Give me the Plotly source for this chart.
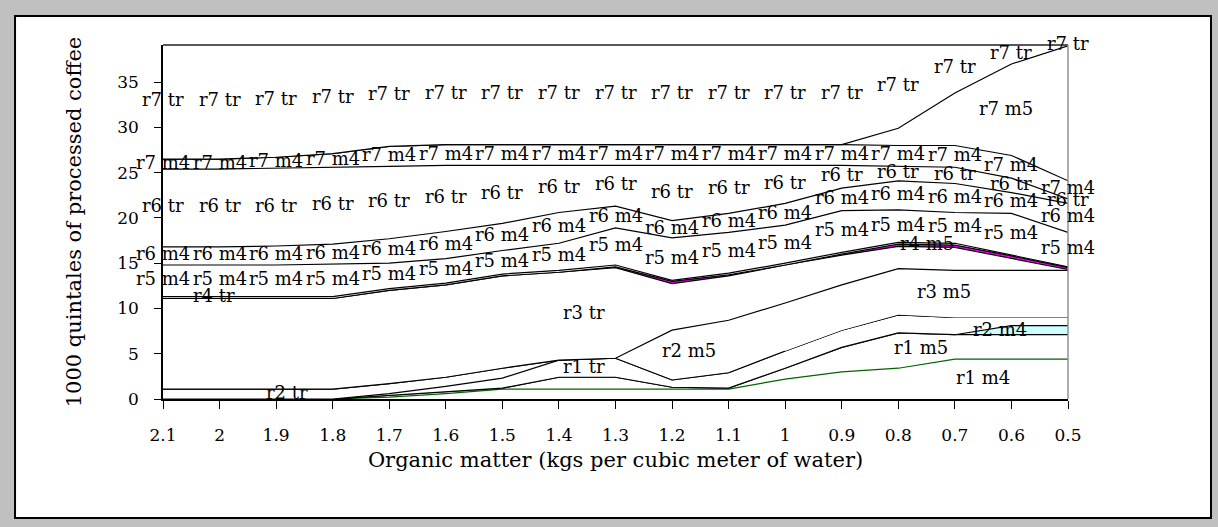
import numpy as np
import plotly.graph_objects as go

# categories (organic matter, kgs per cubic meter of water) - axis runs 2.1 -> 0.5
organic = [2.1, 2.0, 1.9, 1.8, 1.7, 1.6, 1.5, 1.4, 1.3, 1.2, 1.1, 1.0, 0.9, 0.8, 0.7, 0.6, 0.5]
tick_text = ["2.1", "2", "1.9", "1.8", "1.7", "1.6", "1.5", "1.4", "1.3", "1.2", "1.1",
             "1", "0.9", "0.8", "0.7", "0.6", "0.5"]

# stacked series, bottom to top (1000 quintales of processed coffee)
r1_m4 = [0, 0, 0, 0, 0.2, 0.6, 1.1, 1.1, 1.1, 1.1, 1.1, 2.2, 3.0, 3.4, 4.4, 4.4, 4.4]
r1_m5 = [0, 0, 0, 0, 0.2, 0.2, 0.1, 1.3, 1.3, 0.2, 0.1, 1.2, 2.7, 3.9, 2.7, 2.7, 2.7]
r2_m4 = [0, 0, 0, 0, 0, 0, 0, 0, 0, 0, 0, 0, 0, 0, 0, 1.0, 1.0]
r1_tr = [0, 0, 0, 0, 0.2, 0.6, 1.1, 1.9, 2.1, 0.8, 1.7, 1.9, 1.9, 2.0, 1.9, 0.9, 0.9]
r2_tr = [1.1, 1.1, 1.1, 1.1, 1.1, 1.0, 1.1, 0, 0, 0, 0, 0, 0, 0, 0, 0, 0]
r2_m5 = [0, 0, 0, 0, 0, 0, 0, 0, 0, 5.5, 5.8, 0, 0, 0, 0, 0, 0]
r3_m5 = [0, 0, 0, 0, 0, 0, 0, 0, 0, 0, 0, 5.3, 5.0, 5.1, 5.2, 5.2, 5.2]
r3_tr = [10.0, 10.0, 10.0, 10.0, 10.3, 10.2, 10.2, 9.7, 10.0, 5.15, 4.9, 4.2, 3.3, 2.45, 2.55, 1.35, 0.1]
r4_m5 = [0, 0, 0, 0, 0, 0, 0, 0, 0.1, 0.25, 0.1, 0, 0.1, 0.25, 0.25, 0.25, 0.2]
r4_tr = [0.2, 0.2, 0.2, 0.2, 0.2, 0.2, 0.2, 0.2, 0.2, 0.1, 0.2, 0.2, 0.2, 0.2, 0.2, 0.1, 0.1]
r5_m4 = [3.5, 3.5, 3.5, 3.6, 2.8, 2.7, 2.6, 3.0, 4.1, 4.7, 4.5, 4.2, 4.6, 3.6, 3.4, 4.6, 3.8]
r6_m4 = [2.0, 2.0, 2.1, 2.2, 2.7, 3.0, 3.0, 3.4, 2.4, 1.9, 2.1, 2.4, 2.5, 3.2, 3.2, 2.3, 3.2]
r6_tr = [8.6, 8.6, 8.6, 8.5, 8.0, 7.3, 6.4, 5.2, 4.5, 6.1, 5.3, 4.2, 2.5, 1.6, 1.8, 1.6, 0.5]
r7_m4 = [1.1, 1.1, 1.2, 1.5, 2.2, 2.3, 2.3, 2.3, 2.3, 2.3, 2.3, 2.3, 2.3, 2.3, 2.4, 2.5, 2.0]
r7_m5 = [0, 0, 0, 0, 0, 0, 0, 0, 0, 0, 0, 0, 0, 1.9, 5.8, 10.1, 14.9]
r7_tr = [12.7, 12.7, 12.5, 12.1, 11.3, 11.1, 11.1, 11.1, 11.1, 11.1, 11.1, 11.1, 11.1, 9.3, 5.4, 2.2, 0.2]

series = [
    ("r1 m4", r1_m4), ("r1 m5", r1_m5), ("r2 m4", r2_m4), ("r1 tr", r1_tr),
    ("r2 tr", r2_tr), ("r2 m5", r2_m5), ("r3 m5", r3_m5), ("r3 tr", r3_tr),
    ("r4 m5", r4_m5), ("r4 tr", r4_tr),
    ("r5 m4", r5_m4), ("r6 m4", r6_m4), ("r6 tr", r6_tr),
    ("r7 m4", r7_m4), ("r7 m5", r7_m5), ("r7 tr", r7_tr),
]

# where the data labels sit (organic matter value of each label)
label_at = {
    "r1 m4": [0.65], "r1 m5": [0.76], "r1 tr": [1.355],
    "r2 m4": [0.62], "r2 m5": [1.17], "r2 tr": [1.88],
    "r3 m5": [0.72], "r3 tr": [1.355],
    "r4 m5": [0.75], "r4 tr": [2.01],
    "r5 m4": organic, "r6 m4": organic, "r6 tr": organic,
    "r7 m4": organic, "r7 m5": [0.61], "r7 tr": organic,
}

fill_colors = {"r2 m4": "#ccffff", "r4 m5": "#ff00ff"}
line_colors = {"r1 m4": "#006400"}
line_widths = {"r2 m5": 0}   # its border merges into the r3 m5 band in the original

SERIF = "DejaVu Serif"

fig = go.Figure()
for name, vals in series:
    fig.add_trace(go.Scatter(
        x=organic, y=vals, name=name, mode="lines", stackgroup="one",
        line=dict(color=line_colors.get(name, "black"), width=line_widths.get(name, 1.2)),
        fillcolor=fill_colors.get(name, "white"),
        hoverinfo="x+y+name",
    ))

# data labels: centred in each band
xs_up = np.array(organic[::-1])
bottom = np.zeros(len(organic))
annotations = []
for name, vals in series:
    v = np.array(vals, dtype=float)
    mid = bottom + v / 2
    for xl in label_at[name]:
        yl = float(np.interp(xl, xs_up, mid[::-1]))
        annotations.append(dict(x=xl, y=yl, text=name, showarrow=False, yshift=2,
                                font=dict(family=SERIF, size=18, color="black")))
    bottom = bottom + v

fig.update_layout(
    width=1218, height=527,
    paper_bgcolor="#c0c0c0", plot_bgcolor="white",
    margin=dict(l=163, r=150, t=45, b=128),
    showlegend=False,
    font=dict(family=SERIF, size=17, color="black"),
    annotations=annotations,
    shapes=[
        # chart area frame
        dict(type="rect", xref="paper", yref="paper", x0=-0.1635, x1=1.158, y0=-0.336, y1=1.082,
             line=dict(color="black", width=2), fillcolor="white", layer="below"),
        # plot area top and right edges
        dict(type="line", xref="paper", yref="paper", x0=0, x1=1, y0=1, y1=1,
             line=dict(color="#202020", width=1.5)),
        dict(type="line", xref="paper", yref="paper", x0=1, x1=1, y0=0, y1=1,
             line=dict(color="#909090", width=1.5)),
    ],
)
fig.update_xaxes(
    range=[2.1, 0.5], tickvals=organic, ticktext=tick_text,
    showgrid=False, zeroline=False, showline=True, linecolor="black", linewidth=1.5,
    ticks="outside", ticklen=8, tickcolor="black", tickfont=dict(size=17),
    ticklabelstandoff=12,
    title=dict(text="Organic matter (kgs per cubic meter of water)", font=dict(size=21), standoff=8),
)
fig.update_yaxes(
    range=[0, 39.1], tickvals=[0, 5, 10, 15, 20, 25, 30, 35],
    showgrid=False, zeroline=False, showline=True, linecolor="black", linewidth=1.5,
    ticks="outside", ticklen=7, tickcolor="black", tickfont=dict(size=17),
    ticklabelstandoff=12,
    title=dict(text="1000 quintales of processed coffee", font=dict(size=21), standoff=30),
)

# page body margin off so the chart sits at the window origin
fig.write_html("out.html", config={"displayModeBar": False},
               post_script="document.body.style.margin='0';")
